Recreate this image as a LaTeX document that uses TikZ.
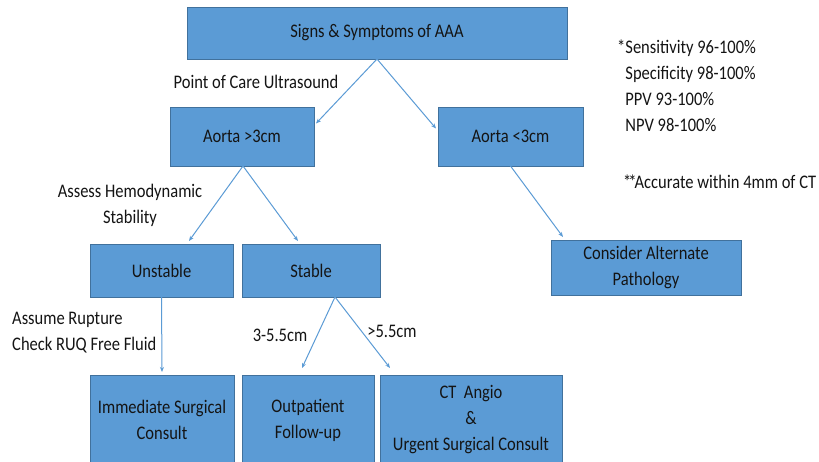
\documentclass[tikz,border=0pt]{standalone}
\usepackage{fontspec}
\setmainfont{Carlito}[FakeStretch=0.86]
\usetikzlibrary{arrows.meta}
\definecolor{boxfill}{HTML}{5B9BD5}
\definecolor{boxline}{HTML}{41719C}
\definecolor{txt}{HTML}{141414}
\begin{document}
\begin{tikzpicture}[x=1pt,y=-1pt,
  box/.style={draw=boxline, line width=0.9pt, fill=boxfill, inner sep=0pt, outer sep=0pt,
    align=center, text=txt, font=\fontsize{19.2}{26}\selectfont},
  lbl/.style={inner sep=0pt, text=txt, font=\fontsize{19.2}{26}\selectfont},
  conn/.style={draw=boxfill, line width=1pt, -{Stealth[length=5pt,width=4pt]}}]
\useasboundingbox (0,0) rectangle (819,462);
\clip (0,0) rectangle (819,462);
\fill[white] (0,0) rectangle (819,462);
% boxes
\node[box, minimum width=380pt, minimum height=52pt] (top) at (377,33) {Signs \& Symptoms of AAA};
\node[box, minimum width=144pt, minimum height=59pt] (a3) at (242,136.5) {Aorta >3cm};
\node[box, minimum width=145pt, minimum height=59pt] (al3) at (510.5,136.5) {Aorta <3cm};
\node[box, minimum width=143pt, minimum height=53pt] (unst) at (161.5,270.5) {Unstable};
\node[box, minimum width=138pt, minimum height=53pt] (stab) at (311,270.5) {Stable};
\node[box, minimum width=190pt, minimum height=55pt] (alt) at (646,267.5) {Consider Alternate\\Pathology};
\node[box, minimum width=144pt, minimum height=90pt] (imm) at (162,420) {Immediate Surgical\\Consult};
\node[box, minimum width=132pt, minimum height=90pt] (outp) at (308,420) {Outpatient\\Follow-up};
\node[box, minimum width=182pt, minimum height=90pt] (ct) at (471,420) {CT\ \ Angio\\\&\\Urgent Surgical Consult};
% labels
\node[lbl] (l1) at (256,82) {Point of Care Ultrasound};
\node[lbl, align=center] (l2) at (130,205) {Assess Hemodynamic\\Stability};
\node[lbl, align=left, anchor=west] (l3) at (12,333) {Assume Rupture\\Check RUQ Free Fluid};
\node[lbl] (l4) at (280,335) {3-5.5cm};
\node[lbl] (l5) at (392,331) {>5.5cm};
\node[lbl, align=left, anchor=north west] (n1) at (617,40) {*Sensitivity 96-100\%\\
\hphantom{*}Specificity 98-100\%\\\hphantom{*}PPV 93-100\%\\\hphantom{*}NPV 98-100\%};
\node[lbl, anchor=west] (n2) at (623,182) {*\kern-3pt*\kern-2pt Accurate within 4mm of CT};
% connectors
\draw[conn] (top.south) -- ([xshift=2pt,yshift=13pt]a3.east);
\draw[conn] (top.south) -- ([xshift=-2pt,yshift=8pt]al3.west);
\draw[conn] ([xshift=1pt]a3.south) -- ([xshift=27.5pt,yshift=3pt]unst.north);
\draw[conn] ([xshift=1pt]a3.south) -- ([xshift=-13pt,yshift=3pt]stab.north);
\draw[conn] (unst.south) -- ([yshift=3pt]imm.north);
\draw[conn] (al3.south) -- ([xshift=-83pt,yshift=3pt]alt.north);
\draw[conn] ([xshift=24pt]stab.south) -- ([xshift=-6pt,yshift=7pt]outp.north);
\draw[conn] ([xshift=24pt]stab.south) -- ([xshift=-81pt,yshift=7pt]ct.north);
\end{tikzpicture}
\end{document}
